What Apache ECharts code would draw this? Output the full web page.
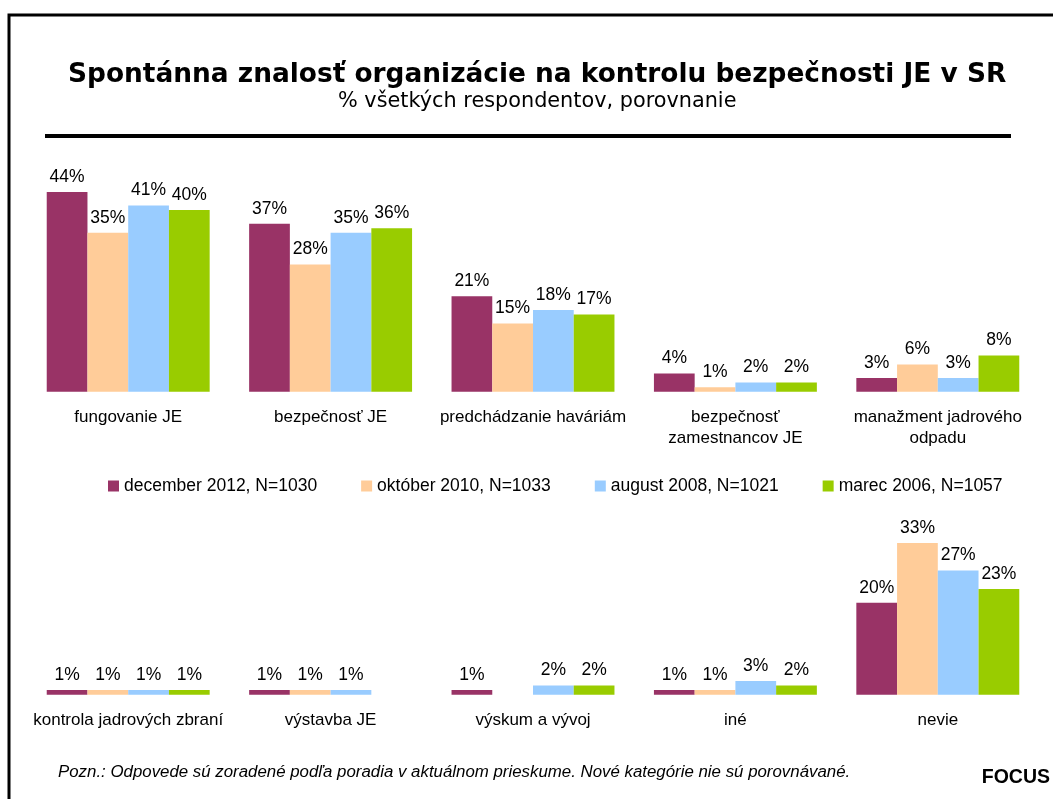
<!DOCTYPE html>
<html>
<head>
<meta charset="utf-8">
<script src="https://cdn.jsdelivr.net/npm/echarts@6/dist/echarts.min.js"></script>
<style>
  html, body { margin: 0; padding: 0; background: #fff; }
  #chart { width: 1053px; height: 799px; }
</style>
</head>
<body>
<div id="chart"></div>
<script>
// survey waves (legend)
const waves = ['december 2012, N=1030', 'október 2010, N=1033', 'august 2008, N=1021', 'marec 2006, N=1057']
const waveColors = ['#993366', '#FFCC99', '#99CCFF', '#99CC00']

// upper panel
const topCategories = ['fungovanie JE', 'bezpečnosť JE', 'predchádzanie haváriám', 'bezpečnosť\nzamestnancov JE', 'manažment jadrového\nodpadu']
const topDec2012 = [44, 37, 21, 4, 3]
const topOkt2010 = [35, 28, 15, 1, 6]
const topAug2008 = [41, 35, 18, 2, 3]
const topMar2006 = [40, 36, 17, 2, 8]

// lower panel (null = not asked in that wave)
const bottomCategories = ['kontrola jadrových zbraní', 'výstavba JE', 'výskum a vývoj', 'iné', 'nevie']
const bottomDec2012 = [1, 1, 1, 1, 20]
const bottomOkt2010 = [1, 1, null, 1, 33]
const bottomAug2008 = [1, 1, 2, 3, 27]
const bottomMar2006 = [1, null, 2, 2, 23]

const topData = [topDec2012, topOkt2010, topAug2008, topMar2006]
const bottomData = [bottomDec2012, bottomOkt2010, bottomAug2008, bottomMar2006]

const FONT = 'Liberation Sans, Arial, sans-serif'

function barSeries(data, idx, axis) {
  return {
    name: waves[idx],
    type: 'bar',
    xAxisIndex: axis,
    yAxisIndex: axis,
    data: data,
    barGap: '0%',
    barCategoryGap: '19.5%',
    itemStyle: { color: waveColors[idx] },
    label: {
      show: true,
      position: 'top',
      distance: 6,
      formatter: (p) => p.value + '%',
      fontFamily: FONT,
      fontSize: 17.5,
      color: '#000',
    },
    emphasis: { disabled: true },
  }
}

function catAxis(data, grid) {
  return {
    type: 'category',
    gridIndex: grid,
    data: data,
    axisLine: { show: false },
    axisTick: { show: false },
    axisLabel: {
      interval: 0,
      margin: 15,
      fontFamily: FONT,
      fontSize: 17,
      lineHeight: 21,
      color: '#000',
    },
  }
}

function valAxis(grid) {
  return { type: 'value', gridIndex: grid, min: 0, max: 50, show: false, splitLine: { show: false } }
}

const chart = echarts.init(document.getElementById('chart'))
chart.setOption({
  animation: false,
  backgroundColor: '#fff',
  title: [
    {
      text: 'Spontánna znalosť organizácie na kontrolu bezpečnosti JE v SR',
      left: 68,
      top: 62,
      padding: 0,
      textStyle: { fontFamily: 'DejaVu Sans', fontWeight: 'bold', fontSize: 26.4, color: '#000' },
    },
    {
      text: '% všetkých respondentov, porovnanie',
      left: 338,
      top: 91,
      padding: 0,
      textStyle: { fontFamily: 'DejaVu Sans', fontWeight: 'normal', fontSize: 20.8, color: '#000' },
    },
  ],
  legend: {
    data: waves,
    left: 108,
    top: 477,
    padding: 0,
    icon: 'rect',
    itemWidth: 11,
    itemHeight: 11,
    itemGap: 44,
    selectedMode: false,
    textStyle: { fontFamily: FONT, fontSize: 17.5, color: '#000' },
  },
  grid: [
    { left: 27, right: 14, top: 164.7, height: 227 },
    { left: 27, right: 14, top: 464.7, height: 230 },
  ],
  xAxis: [catAxis(topCategories, 0), catAxis(bottomCategories, 1)],
  yAxis: [valAxis(0), valAxis(1)],
  series: [
    ...topData.map((d, i) => barSeries(d, i, 0)),
    ...bottomData.map((d, i) => barSeries(d, i, 1)),
  ],
  graphic: [
    {
      type: 'rect',
      shape: { x: 9, y: 15, width: 1200, height: 1000 },
      style: { fill: 'none', stroke: '#000', lineWidth: 3 },
      silent: true,
    },
    {
      type: 'line',
      shape: { x1: 45, y1: 136, x2: 1011, y2: 136 },
      style: { stroke: '#000', lineWidth: 4 },
      silent: true,
    },
    {
      type: 'text',
      x: 58,
      y: 772,
      style: {
        text: 'Pozn.: Odpovede sú zoradené podľa poradia v aktuálnom prieskume. Nové kategórie nie sú porovnávané.',
        font: 'italic 16.85px ' + FONT,
        fill: '#000',
        verticalAlign: 'middle',
      },
      silent: true,
    },
    {
      type: 'text',
      x: 1050,
      y: 778,
      style: {
        text: 'FOCUS',
        font: 'bold 19.5px ' + FONT,
        fill: '#000',
        align: 'right',
        verticalAlign: 'middle',
      },
      silent: true,
    },
  ],
})
</script>
</body>
</html>
